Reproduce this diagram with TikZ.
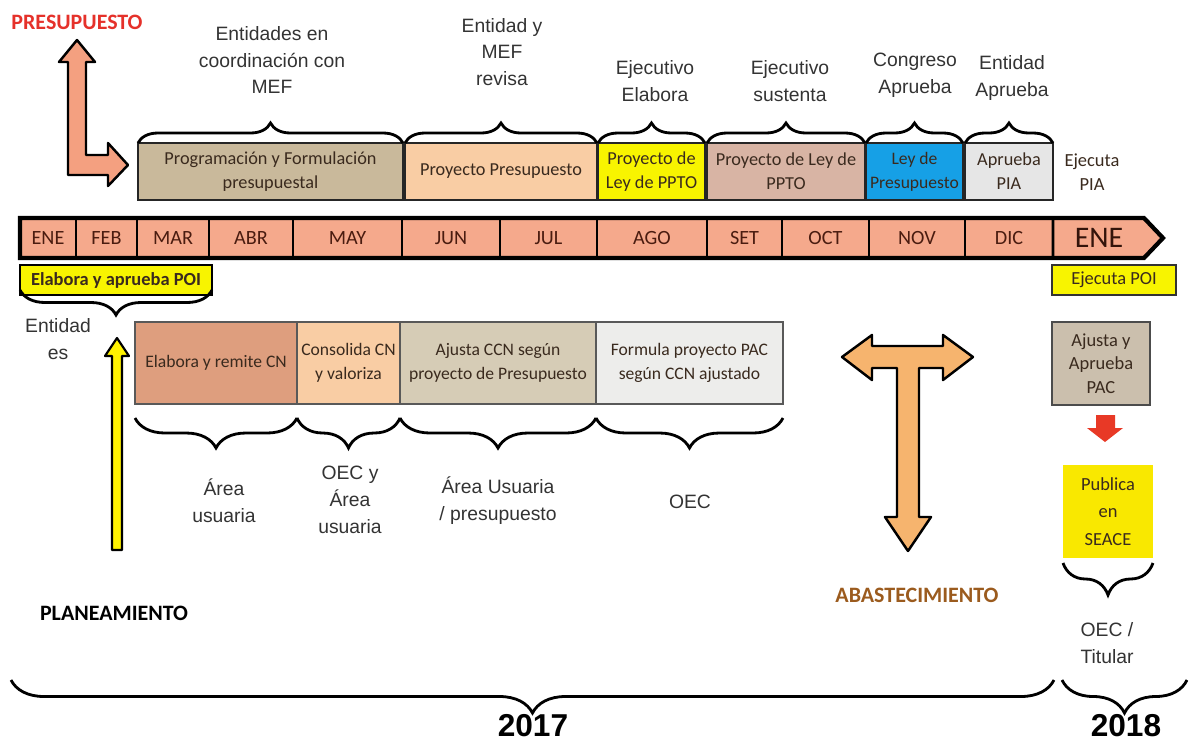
\documentclass[tikz,border=0pt]{standalone}
\usepackage{fontspec}
\setmainfont{Liberation Sans}
\newfontfamily\calfont{Carlito}
\usetikzlibrary{decorations.pathreplacing}

\definecolor{mes}{HTML}{F5A98C}
\definecolor{mestxt}{HTML}{4A1C10}
\definecolor{caja}{HTML}{3A2A1E}
\definecolor{tan}{HTML}{C9B99B}
\definecolor{durazno}{HTML}{F9CDA4}
\definecolor{amarillo}{HTML}{F8F400}
\definecolor{rosado}{HTML}{D8B4A4}
\definecolor{azul}{HTML}{16A0E6}
\definecolor{gris}{HTML}{E6E6E6}
\definecolor{terracota}{HTML}{DE9E7E}
\definecolor{arena}{HTML}{D6CCB6}
\definecolor{grisclaro}{HTML}{EDEDEB}
\definecolor{pardo}{HTML}{CBBFAD}
\definecolor{salmon}{HTML}{F4A080}
\definecolor{naranja}{HTML}{F6B46E}
\definecolor{rojo}{HTML}{E5312A}
\definecolor{marron}{HTML}{9B5B1E}

\tikzset{
  tbox/.style={draw=black!85, line width=1.2pt, outer sep=0pt, inner sep=1pt, minimum height=11.4mm, align=center, text=caja, font=\calfont\fontsize{10.4}{13.5}\selectfont},
  lbox/.style={draw=black!65, line width=1pt, outer sep=0pt, inner sep=1pt, minimum height=16.4mm, align=center, text=caja, font=\calfont\fontsize{10}{13.5}\selectfont},
  mcell/.style={draw=black, line width=1.6pt, fill=mes, outer sep=0pt, minimum height=8mm, text=mestxt, font=\calfont\fontsize{11.5}{13}\selectfont},
  hdr/.style={align=center, text=black!80, font=\fontsize{11}{15.3}\selectfont},
  etiq/.style={font=\calfont\bfseries\fontsize{12.5}{14}\selectfont},
  brc/.style={decorate, decoration={brace, amplitude=#1}, line width=1.6pt},
  brc/.default=4mm,
  flecha/.style={draw=black, line width=1.4pt, line join=round},
}

\begin{document}
\begin{tikzpicture}[x=0.2mm, y=-0.2mm]
    \useasboundingbox (0,0) rectangle (1193,748);

    \node[etiq, text=rojo] (presu) at (77,22) {PRESUPUESTO};
    \filldraw[flecha, fill=salmon] (77,40) -- (95,62) -- (86,62) -- (86,155) -- (108,155) -- (108,143) -- (128,165) -- (108,186) -- (108,175) -- (68,175) -- (68,62) -- (59,62) -- cycle;

    \node[tbox, fill=tan, minimum width=53mm] (pf) at (270.5,171.5) {Programación y Formulación\\presupuestal};
    \node[tbox, fill=durazno, minimum width=38.4mm] (pp) at (501,171.5) {Proyecto Presupuesto};
    \node[tbox, fill=amarillo, minimum width=21.4mm] (pl) at (651.5,171.5) {Proyecto de\\Ley de PPTO};
    \node[tbox, fill=rosado, minimum width=31.6mm] (ps) at (786,171.5) {Proyecto de Ley de\\PPTO};
    \node[tbox, fill=azul, minimum width=19.4mm, font=\calfont\fontsize{10}{13.5}\selectfont] (lp) at (914.5,171.5) {Ley de\\Presupuesto};
    \node[tbox, fill=gris, minimum width=17.6mm] (ap) at (1009,171.5) {Aprueba\\PIA};
    \node[align=center, text=caja, font=\calfont\fontsize{10.5}{13.5}\selectfont] (epia) at (1092,172) {Ejecuta\\PIA};

    \draw[brc] (pf.north west) -- (pf.north east);
    \draw[brc] (pp.north west) -- (pp.north east);
    \draw[brc] (pl.north west) -- (pl.north east);
    \draw[brc] (ps.north west) -- (ps.north east);
    \draw[brc] (lp.north west) -- (lp.north east);
    \draw[brc] (ap.north west) -- (ap.north east);

    \node[hdr] (h1) at (272,60) {Entidades en\\coordinación con\\MEF};
    \node[hdr] (h2) at (502,52) {Entidad y\\MEF\\revisa};
    \node[hdr] (h3) at (655,81) {Ejecutivo\\Elabora};
    \node[hdr] (h4) at (790,81) {Ejecutivo\\sustenta};
    \node[hdr] (h5) at (915,75) {Congreso\\Aprueba};
    \node[hdr] (h6) at (1012,78) {Entidad\\Aprueba};

    % meses
    \node[mcell, minimum width=11.2mm] (m1) at (48,238) {ENE};
    \node[mcell, minimum width=12.2mm] (m2) at (106.5,238) {FEB};
    \node[mcell, minimum width=14.4mm] (m3) at (173,238) {MAR};
    \node[mcell, minimum width=16.8mm] (m4) at (251,238) {ABR};
    \node[mcell, minimum width=21.8mm] (m5) at (347.5,238) {MAY};
    \node[mcell, minimum width=19.6mm] (m6) at (451,238) {JUN};
    \node[mcell, minimum width=19.4mm] (m7) at (548.5,238) {JUL};
    \node[mcell, minimum width=22mm] (m8) at (652,238) {AGO};
    \node[mcell, minimum width=15mm] (m9) at (744.5,238) {SET};
    \node[mcell, minimum width=17.4mm] (m10) at (825.5,238) {OCT};
    \node[mcell, minimum width=19.2mm] (m11) at (917,238) {NOV};
    \node[mcell, minimum width=17.6mm] (m12) at (1009,238) {DIC};
    \draw[mcell] (m12.north east) -- (1144,218) -- (1163,238) -- (1144,258) -- (m12.south east) -- cycle;
    \node[text=mestxt!70!black, font=\calfont\fontsize{17}{18}\selectfont] (m13) at (1099,238) {ENE};
    \draw[line width=2.4pt, line join=miter] (m1.north west) -- (1144,218) -- (1163,238) -- (1144,258) -- (m1.south west) -- cycle;

    \node[draw=black, line width=1.2pt, fill=amarillo, outer sep=0pt, minimum width=38.4mm, minimum height=6mm, inner sep=0pt, text=caja, font=\calfont\bfseries\fontsize{10.5}{12}\selectfont] (poi) at (116,280) {Elabora y aprueba POI};
    \draw[brc=5mm] ([yshift=1mm]poi.south east) -- ([yshift=1mm]poi.south west);
    \node[draw=black!80, line width=1.2pt, fill=amarillo, outer sep=0pt, minimum width=24.8mm, minimum height=6mm, inner sep=0pt, text=caja, font=\calfont\fontsize{10.5}{12}\selectfont] (epoi) at (1114,280) {Ejecuta POI};

    \node[hdr] (entes) at (58,339) {Entidad\\es};
    \filldraw[flecha, line width=1.2pt, fill=yellow] (117,338) -- (129,356) -- (122,356) -- (122,550) -- (112,550) -- (112,356) -- (105,356) -- cycle;

    \node[lbox, fill=terracota, minimum width=32.4mm] (ecn) at (216,363) {Elabora y remite CN};
    \node[lbox, fill=durazno, minimum width=20.6mm] (ccn) at (348.5,363) {Consolida CN\\y valoriza};
    \node[lbox, fill=arena, minimum width=39.2mm] (acn) at (498,363) {Ajusta CCN según\\proyecto de Presupuesto};
    \node[lbox, fill=grisclaro, minimum width=37.4mm] (fpac) at (689.5,363) {Formula proyecto PAC\\según CCN ajustado};

    \draw[brc=6mm] ([yshift=-2.8mm]ecn.south east) -- ([yshift=-2.8mm]ecn.south west);
    \draw[brc=6mm] ([yshift=-2.8mm]ccn.south east) -- ([yshift=-2.8mm]ccn.south west);
    \draw[brc=6mm] ([yshift=-2.8mm]acn.south east) -- ([yshift=-2.8mm]acn.south west);
    \draw[brc=6mm] ([yshift=-2.8mm]fpac.south east) -- ([yshift=-2.8mm]fpac.south west);

    \node[hdr] (l1) at (224,501) {Área\\usuaria};
    \node[hdr] (l2) at (350,500) {OEC y\\Área\\usuaria};
    \node[hdr] (l3) at (498,501) {Área Usuaria\\/ presupuesto};
    \node[hdr] (l4) at (690,502) {OEC};

    \filldraw[flecha, fill=naranja] (842,357) -- (872,335) -- (872,346) -- (943,346) -- (943,335) -- (973,357) -- (943,380) -- (943,368) -- (919,368) -- (919,517) -- (931,517) -- (908,551) -- (885,517) -- (897,517) -- (897,368) -- (872,368) -- (872,380) -- cycle;

    \node[lbox, draw=black!70, line width=1.4pt, fill=pardo, minimum width=19.6mm, minimum height=16.6mm, font=\calfont\fontsize{10.5}{13.5}\selectfont] (pac) at (1101,363.5) {Ajusta y\\Aprueba\\PAC};
    \fill[rojo!90!orange] (1096,415) -- (1115,415) -- (1115,428) -- (1123,428) -- (1105,442) -- (1087,428) -- (1096,428) -- cycle;
    \node[fill=amarillo!90!orange, outer sep=0pt, minimum width=18mm, minimum height=18.6mm, align=center, text=caja, font=\calfont\fontsize{10.5}{15.5}\selectfont] (pub) at (1108,511.5) {Publica\\en\\SEACE};
    \draw[brc=6.4mm] ([yshift=-1mm]pub.south east) -- ([yshift=-1mm]pub.south west);
    \node[hdr] (oect) at (1107,643) {OEC /\\Titular};

    \node[etiq, text=marron] (abas) at (917,595) {ABASTECIMIENTO};
    \node[etiq] (plan) at (114,613) {PLANEAMIENTO};

    \coordinate (b17a) at (11,680);
    \coordinate (b17b) at (1054,680);
    \coordinate (b18a) at (1062,680);
    \coordinate (b18b) at (1187,680);
    \draw[brc=6.6mm] (b17b) -- (b17a);
    \draw[brc=6.6mm] (b18b) -- (b18a);
    \node[font=\bfseries\fontsize{18}{20}\selectfont] (a17) at (533,726) {2017};
    \node[font=\bfseries\fontsize{18}{20}\selectfont] (a18) at (1126,726) {2018};
\end{tikzpicture}
\end{document}
